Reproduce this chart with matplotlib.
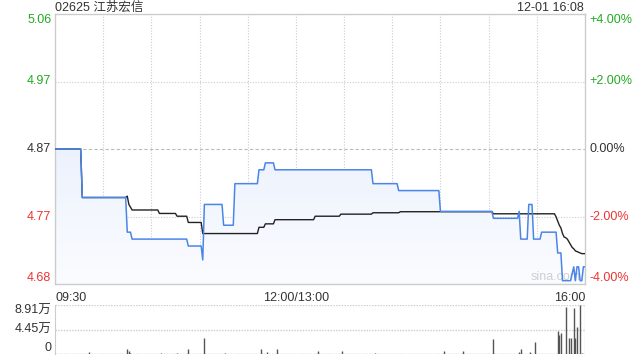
import numpy as np
import matplotlib.pyplot as plt
import matplotlib.transforms as mtransforms
from matplotlib.colors import LinearSegmentedColormap

plt.rcParams['font.family'] = ['Liberation Sans', 'Noto Sans CJK SC', 'DejaVu Sans']

stock_title = "02625 江苏宏信"
stamp = "12-01 16:08"
prev_close = 4.87

# minute index (0 = 09:30, 150 = 12:00/13:00, 330 = 16:00) -> price
price_min = [0, 16, 17, 44, 45, 47, 48, 82, 83, 91, 92, 93, 104, 105, 111, 112,
             126, 127, 130, 131, 136, 137, 197, 198, 213, 214, 239, 240, 272,
             273, 288, 289, 290, 294, 295, 297, 298, 302, 303, 312, 313, 315,
             316, 321, 322, 323, 324, 325, 326, 327, 328, 329, 330]
price_val = [4.87, 4.87, 4.80, 4.80, 4.75, 4.75, 4.74, 4.74, 4.73, 4.73, 4.71,
             4.79, 4.79, 4.76, 4.76, 4.82, 4.82, 4.84, 4.84, 4.85, 4.85, 4.84,
             4.84, 4.82, 4.82, 4.81, 4.81, 4.78, 4.78, 4.77, 4.77, 4.78, 4.74,
             4.74, 4.79, 4.79, 4.74, 4.74, 4.75, 4.75, 4.72, 4.72, 4.68, 4.68,
             4.69, 4.70, 4.68, 4.70, 4.70, 4.68, 4.68, 4.70, 4.70]

avg_min = [0, 16, 17, 44, 45, 46, 48, 64, 65, 75, 76, 82, 83, 91, 92, 126, 127,
           130, 131, 136, 137, 161, 162, 177, 178, 197, 198, 214, 215, 272, 273,
           311, 312, 313, 314, 315, 316, 317, 318, 319, 320, 321, 322, 323, 324,
           325, 326, 327, 328, 330]
avg_val = [4.87, 4.87, 4.80, 4.80, 4.802, 4.79, 4.782, 4.782, 4.777, 4.777,
           4.773, 4.773, 4.764, 4.764, 4.748, 4.748, 4.757, 4.757, 4.762, 4.762,
           4.768, 4.768, 4.773, 4.773, 4.776, 4.776, 4.778, 4.778, 4.7795,
           4.7795, 4.7765, 4.7765, 4.772, 4.766, 4.760, 4.756, 4.748, 4.743,
           4.742, 4.740, 4.736, 4.732, 4.728, 4.726, 4.723, 4.722, 4.721, 4.720,
           4.719, 4.719]

vol_min = [21, 45, 46, 47, 66, 76, 83, 93, 106, 128, 132, 138, 164, 179, 199,
           242, 254, 273, 289, 290, 296, 299, 313, 314, 315, 318, 320, 321, 323,
           324, 325, 327, 328]
vol_val = [3500, 8500, 5500, 2000, 1800, 2500, 9000, 28500, 1800, 9000, 3600,
           9000, 5000, 5000, 1800, 5000, 5000, 27000, 3600, 8500, 3600, 22000,
           42000, 34500, 37500, 86000, 29700, 29700, 83000, 29700, 48500, 89100,
           2500]

price_ticks = ["5.06", "4.97", "4.87", "4.77", "4.68"]
pct_ticks = ["+4.00%", "+2.00%", "0.00%", "-2.00%", "-4.00%"]
pct_levels = [0.04, 0.02, 0.0, -0.02, -0.04]
vol_ticks = ["8.91万", "4.45万", "0"]
vol_max = 89100

green = '#22aa22'
red = '#ee3333'
dark = '#333333'
grid_c = '#cccccc'

fig = plt.figure(figsize=(6.4, 3.6), dpi=100)
ax = fig.add_axes([55 / 640, 76 / 360, 530 / 640, 270 / 360])
axv = fig.add_axes([55 / 640, 6 / 360, 530 / 640, 49 / 360])

ylo, yhi = prev_close * 0.96, prev_close * 1.04
ax.set_xlim(0, 330)
ax.set_ylim(ylo, yhi)
ax.set_xticks([])
ax.set_yticks([])
for s in ax.spines.values():
    s.set_color(grid_c)
    s.set_linewidth(1)

# grid
for m in range(30, 330, 30):
    ax.axvline(m, color=grid_c, lw=0.8, ls=(0, (1, 1.5)), zorder=0)
for p in (0.02, -0.02):
    ax.axhline(prev_close * (1 + p), color=grid_c, lw=0.8, ls=(0, (1, 1.5)), zorder=0)
ax.axhline(prev_close, color='#bbbbbb', lw=0.8, ls=(0, (3, 2)), zorder=0)

# gradient area under price line
fill = ax.fill_between(price_min, price_val, ylo, facecolor='none', edgecolor='none')
cmap = LinearSegmentedColormap.from_list('g', ['#fbfcff', '#dde8fb'])
grad = np.linspace(0, 1, 256).reshape(-1, 1)
im = ax.imshow(grad, extent=[0, 330, ylo, yhi], origin='lower', aspect='auto',
               cmap=cmap, zorder=1)
im.set_clip_path(fill.get_paths()[0], ax.transData)

ax.text(0.898, 0.025, "sina.com", transform=ax.transAxes, fontsize=9, color='#cfcfcf',
        va='center', ha='left', zorder=2)
ax.plot(avg_min, avg_val, color='#222222', lw=1, zorder=3)
ax.plot(price_min, price_val, color='#4a86e8', lw=1.1, zorder=4)

# side labels
tl = mtransforms.blended_transform_factory(ax.transAxes, ax.transData)
for lab, pct, p in zip(price_ticks, pct_levels, pct_ticks):
    y = prev_close * (1 + pct)
    c = green if pct > 0 else (red if pct < 0 else dark)
    va = 'top' if pct == 0.04 else ('bottom' if pct == -0.04 else 'center')
    ax.text(-0.007, y, lab, transform=tl, ha='right', va=va, fontsize=9, color=c)
    ax.text(1.009, y, p, transform=tl, ha='left', va=va, fontsize=9, color=c)

# time labels
ax.text(0, -0.03, "09:30", transform=ax.transAxes, ha='left', va='top', fontsize=9, color=dark)
ax.text(150 / 330, -0.03, "12:00/13:00", transform=ax.transAxes, ha='center', va='top',
        fontsize=9, color=dark)
ax.text(1, -0.03, "16:00", transform=ax.transAxes, ha='right', va='top', fontsize=9, color=dark)

fig.text(55 / 640, 1 - 8 / 360, stock_title, ha='left', va='center', fontsize=9, color=dark)
fig.text(584 / 640, 1 - 8 / 360, stamp, ha='right', va='center', fontsize=9, color=dark)

# volume panel
axv.set_xlim(0, 330)
axv.set_ylim(0, vol_max)
axv.set_xticks([])
axv.set_yticks([])
for k in ('top', 'right', 'bottom'):
    axv.spines[k].set_visible(False)
axv.spines['left'].set_color(grid_c)
axv.axhline(vol_max, color=grid_c, lw=1, ls=(0, (1, 1)))
axv.axhline(vol_max / 2, color=grid_c, lw=1, ls=(0, (1, 1)))
axv.axvline(330, color=grid_c, lw=1, ls=(0, (1, 1)))
axv.axhline(0, color='#999999', lw=1, ls=(0, (1, 1)))
axv.vlines(vol_min, 0, vol_val, color='#555555', lw=1)
axv.text(-0.007, vol_max, vol_ticks[0], transform=axv.get_yaxis_transform(), ha='right',
         va='top', fontsize=9, color=dark)
axv.text(-0.007, vol_max / 2, vol_ticks[1], transform=axv.get_yaxis_transform(), ha='right',
         va='center', fontsize=9, color=dark)
axv.text(-0.007, 0, vol_ticks[2], transform=axv.get_yaxis_transform(), ha='right',
         va='bottom', fontsize=9, color=dark)

fig.savefig("out.png", dpi=100)
